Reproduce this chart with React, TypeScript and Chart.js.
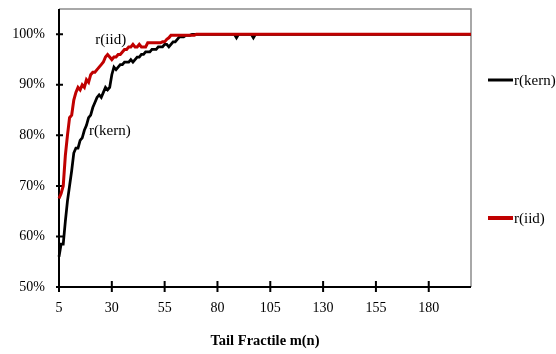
import React, { useEffect, useRef } from 'react';
import { Chart, registerables } from 'chart.js';

Chart.register(...registerables);

// Tail fractile m(n): categories 5..200
const tailFractile: number[] = Array.from({ length: 196 }, (_, i) => 5 + i);

// r(iid) in %, m = 5..200
const rIid: number[] = [
  67.5, 68.5, 70, 76, 80, 83.5, 84, 87, 88.5, 89.5,
  89, 90, 89.5, 91, 90.5, 92, 92.5, 92.5, 93, 93.5,
  94, 94.5, 95.5, 96, 95.5, 95, 95.5, 95.5, 96, 96,
  96.5, 97, 97, 97.5, 97.5, 98, 97.5, 97.5, 98, 97.5,
  97.5, 97.5, 98.3, 98.3, 98.3, 98.3, 98.3, 98.3, 98.3, 98.5,
  98.5, 99, 99.3, 99.8, 99.8, 99.8, 99.8, 99.8, 99.8, 99.8,
  99.8, 99.8, 99.8, 99.8, 99.8, 100, 100, 100, 100, 100,
  100, 100, 100, 100, 100, 100, 100, 100, 100, 100,
  100, 100, 100, 100, 100, 100, 100, 100, 100, 100,
  100, 100, 100, 100, 100, 100, 100, 100, 100, 100,
  100, 100, 100, 100, 100, 100, 100, 100, 100, 100,
  100, 100, 100, 100, 100, 100, 100, 100, 100, 100,
  100, 100, 100, 100, 100, 100, 100, 100, 100, 100,
  100, 100, 100, 100, 100, 100, 100, 100, 100, 100,
  100, 100, 100, 100, 100, 100, 100, 100, 100, 100,
  100, 100, 100, 100, 100, 100, 100, 100, 100, 100,
  100, 100, 100, 100, 100, 100, 100, 100, 100, 100,
  100, 100, 100, 100, 100, 100, 100, 100, 100, 100,
  100, 100, 100, 100, 100, 100, 100, 100, 100, 100,
  100, 100, 100, 100, 100, 100,
];

// r(kern) in %, m = 5..200
const rKern: number[] = [
  56, 58.5, 58.5, 63, 67, 70, 73, 76.5, 77.5, 77.5,
  79, 79.5, 81, 82, 83.5, 84, 85.5, 86.5, 87.5, 88,
  87.5, 88.5, 89.5, 89, 89.5, 92, 93.5, 93, 93.5, 94,
  94, 94.5, 94.5, 94.5, 95, 94.5, 95, 95.5, 95.5, 96,
  96, 96.5, 96.5, 96.5, 97, 97, 97, 97.5, 97.5, 97.5,
  98, 98, 97.5, 98, 98.5, 98.5, 99, 99.5, 99.5, 99.5,
  99.8, 99.8, 99.8, 100, 100, 100, 100, 100, 100, 100,
  100, 100, 100, 100, 100, 100, 100, 100, 100, 100,
  100, 100, 100, 100, 99.3, 100, 100, 100, 100, 100,
  100, 100, 99.3, 100, 100, 100, 100, 100, 100, 100,
  100, 100, 100, 100, 100, 100, 100, 100, 100, 100,
  100, 100, 100, 100, 100, 100, 100, 100, 100, 100,
  100, 100, 100, 100, 100, 100, 100, 100, 100, 100,
  100, 100, 100, 100, 100, 100, 100, 100, 100, 100,
  100, 100, 100, 100, 100, 100, 100, 100, 100, 100,
  100, 100, 100, 100, 100, 100, 100, 100, 100, 100,
  100, 100, 100, 100, 100, 100, 100, 100, 100, 100,
  100, 100, 100, 100, 100, 100, 100, 100, 100, 100,
  100, 100, 100, 100, 100, 100, 100, 100, 100, 100,
  100, 100, 100, 100, 100, 100,
];

const xTickValues = [5, 30, 55, 80, 105, 130, 155, 180];
const yTickValues = [50, 60, 70, 80, 90, 100];
const seriesNames = ['r(kern)', 'r(iid)'];
const seriesColors = ['#000000', '#c00000'];
const xTitle = 'Tail Fractile m(n)';

const FAMILY = '"Liberation Serif", "Times New Roman", serif';

export default function App() {
  const ref = useRef<HTMLCanvasElement>(null);

  useEffect(() => {
    const canvas = ref.current;
    if (!canvas) return;

    const decor = {
      id: 'decor',
      beforeDatasetsDraw(chart: any) {
        const { ctx, chartArea: a, scales } = chart;
        ctx.save();
        ctx.lineCap = 'butt';
        // grey plot border (top, right)
        ctx.strokeStyle = '#8c8c8c';
        ctx.lineWidth = 1.5;
        ctx.beginPath();
        ctx.moveTo(a.left, a.top);
        ctx.lineTo(a.right, a.top);
        ctx.lineTo(a.right, a.bottom);
        ctx.stroke();
        // black axes
        ctx.strokeStyle = '#000';
        ctx.lineWidth = 2;
        ctx.beginPath();
        ctx.moveTo(a.left, a.top);
        ctx.lineTo(a.left, a.bottom);
        ctx.lineTo(a.right, a.bottom);
        ctx.stroke();
        // tick marks (crossing the axes)
        ctx.beginPath();
        yTickValues.forEach((v) => {
          const y = scales.y.getPixelForValue(v);
          ctx.moveTo(a.left - 3, y);
          ctx.lineTo(a.left + 4, y);
        });
        xTickValues.forEach((v) => {
          const x = scales.x.getPixelForValue(v);
          ctx.moveTo(x, a.bottom - 6);
          ctx.lineTo(x, a.bottom + 5);
        });
        ctx.stroke();
        ctx.restore();
      },
      afterDatasetsDraw(chart: any) {
        const { ctx, chartArea: a, scales } = chart;
        ctx.save();
        ctx.font = `15px ${FAMILY}`;
        ctx.fillStyle = '#000';
        ctx.textBaseline = 'middle';
        ctx.textAlign = 'left';
        // in-plot labels
        ctx.fillText(seriesNames[1], scales.x.getPixelForValue(22.2), scales.y.getPixelForValue(98.8));
        ctx.fillText(seriesNames[0], scales.x.getPixelForValue(19.2), scales.y.getPixelForValue(80.9));
        // legend on the right
        const legendY = [80, 218];
        seriesNames.forEach((name, i) => {
          ctx.strokeStyle = seriesColors[i];
          ctx.lineWidth = i === 0 ? 3 : 4;
          ctx.beginPath();
          ctx.moveTo(a.right + 17, legendY[i]);
          ctx.lineTo(a.right + 42, legendY[i]);
          ctx.stroke();
          ctx.fillText(name, a.right + 43, legendY[i] + 1);
        });
        ctx.restore();
      },
    };

    const chart = new Chart(canvas, {
      type: 'line',
      data: {
        datasets: [
          {
            label: seriesNames[0],
            data: tailFractile.map((m, i) => ({ x: m, y: rKern[i] })),
            borderColor: seriesColors[0],
            borderWidth: 2.75,
            pointRadius: 0,
            tension: 0,
            clip: 4,
            order: 1,
          },
          {
            label: seriesNames[1],
            data: tailFractile.map((m, i) => ({ x: m, y: rIid[i] })),
            borderColor: seriesColors[1],
            borderWidth: 3,
            pointRadius: 0,
            tension: 0,
            clip: 4,
            order: 0,
          },
        ],
      },
      options: {
        animation: false,
        responsive: false,
        devicePixelRatio: 1,
        layout: { padding: { left: 0, top: 9, right: 85, bottom: 0 } },
        plugins: { legend: { display: false }, tooltip: { enabled: false } },
        scales: {
          x: {
            type: 'linear',
            min: 5,
            max: 200,
            afterBuildTicks: (s: any) => {
              s.ticks = xTickValues.map((v) => ({ value: v }));
            },
            afterFit: (s: any) => {
              s.height = 67;
              s.paddingLeft = 0;
              s.paddingRight = 0;
            },
            grid: { display: false, drawTicks: false },
            border: { display: false },
            ticks: {
              padding: 13,
              color: '#000',
              autoSkip: false,
              maxRotation: 0,
              font: { family: FAMILY, size: 14 },
              callback: (v: any) => String(v),
            },
            title: {
              display: true,
              text: xTitle,
              color: '#000',
              font: { family: FAMILY, size: 14.5, weight: 'bold' },
              padding: { top: 0, bottom: 4 },
            },
          },
          y: {
            type: 'linear',
            min: 50,
            max: 105,
            afterBuildTicks: (s: any) => {
              s.ticks = yTickValues.map((v) => ({ value: v }));
            },
            afterFit: (s: any) => {
              s.width = 59;
              s.paddingTop = 0;
              s.paddingBottom = 0;
            },
            grid: { display: false, drawTicks: false },
            border: { display: false },
            ticks: {
              padding: 14,
              color: '#000',
              font: { family: FAMILY, size: 14 },
              callback: (v: any) => `${v}%`,
            },
          },
        },
      },
      plugins: [decor],
    });

    return () => chart.destroy();
  }, []);

  return (
    <canvas
      ref={ref}
      width={556}
      height={354}
      style={{ display: 'block', position: 'fixed', left: 0, top: 0, background: '#fff' }}
    />
  );
}
